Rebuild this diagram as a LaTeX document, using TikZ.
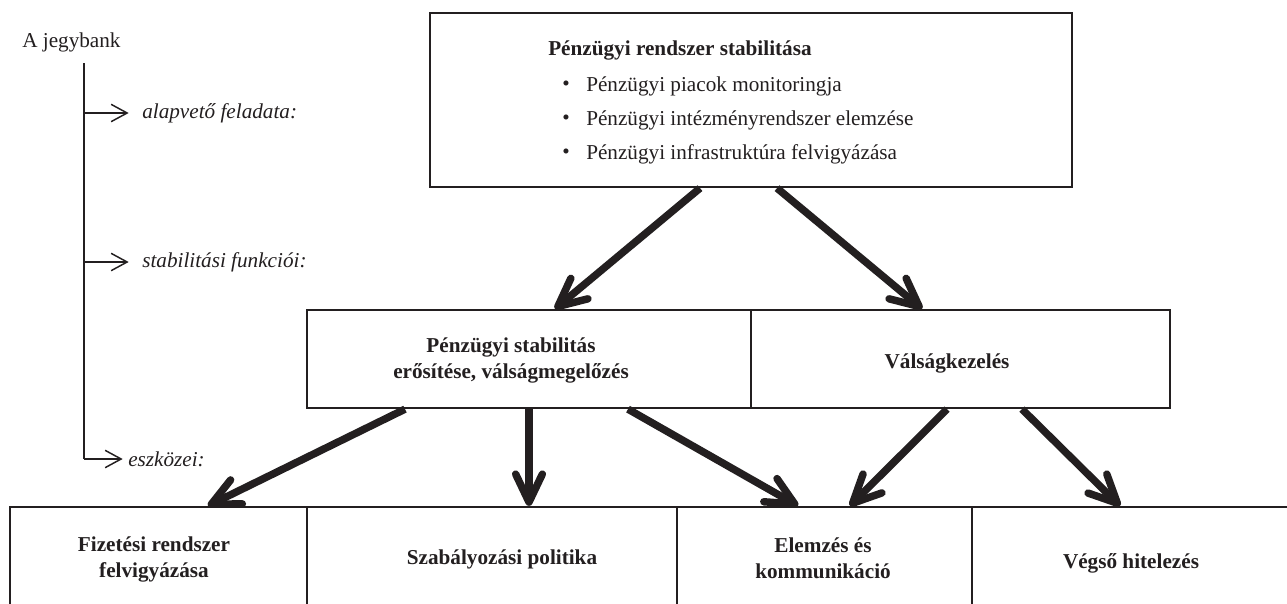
\documentclass[tikz,border=0pt]{standalone}
\usepackage{fontspec}
\setmainfont{Liberation Serif}
\usetikzlibrary{arrows.meta,calc}
\definecolor{ink}{HTML}{231F20}
\begin{document}
\begin{tikzpicture}[x=0.75pt,y=-0.75pt,
  box/.style={draw=ink, line width=1.7pt, inner sep=0pt},
  txt/.style={font=\fontsize{15.9}{19.5}\selectfont, text=ink, inner sep=0pt},
  itxt/.style={font=\fontsize{15.9}{19.5}\selectfont\itshape, text=ink, inner sep=0pt},
  btxt/.style={font=\fontsize{15.9}{19.5}\selectfont\bfseries, text=ink, inner sep=0pt, align=center},
  bigarrow/.style={draw=ink, line width=5.6pt, -{Straight Barb[length=21pt,width=20pt,round]}},
  thinarrow/.style={draw=ink, line width=1.1pt, -{Straight Barb[length=12pt,width=13pt]}}]
\useasboundingbox (0,0) rectangle (1287,603);
\clip (0,0) rectangle (1287,603);
\fill[white] (0,0) rectangle (1287,603);

% boxes
\node[box, minimum width=481.5pt, minimum height=130.5pt] (top) at (751,100) {};
\node[box, minimum width=333pt, minimum height=73.5pt] (ml) at (529,359) {};
\node[box, minimum width=314.25pt, minimum height=73.5pt] (mr) at (960.5,359) {};
\node[box, minimum width=222.75pt, minimum height=99.75pt] (b1) at (158.5,573.5) {};
\node[box, minimum width=277.5pt, minimum height=99.75pt] (b2) at (492,573.5) {};
\node[box, minimum width=221.25pt, minimum height=99.75pt] (b3) at (824.5,573.5) {};
\node[box, minimum width=253.5pt, minimum height=99.75pt] (b4) at (1141,573.5) {};

% top box text
\node[btxt, anchor=west] (ttl) at (548,50) {Pénzügyi rendszer stabilitása};
\node[txt] (bu1) at (566,86) {•};
\node[txt] (bu2) at (566,120) {•};
\node[txt] (bu3) at (566,154) {•};
\node[txt, anchor=west] (l1) at (586,86) {Pénzügyi piacok monitoringja};
\node[txt, anchor=west] (l2) at (586,120) {Pénzügyi intézményrendszer elemzése};
\node[txt, anchor=west] (l3) at (586,154) {Pénzügyi infrastruktúra felvigyázása};

% middle texts
\node[btxt] (mlt) at (511,360) {Pénzügyi stabilitás\\erősítése, válságmegelőzés};
\node[btxt] (mrt) at (947,363) {Válságkezelés};

% bottom texts
\node[btxt] (b1t) at (154,559) {Fizetési rendszer\\felvigyázása};
\node[btxt] (b2t) at (502,559) {Szabályozási politika};
\node[btxt] (b3t) at (823,558) {Elemzés és\\kommunikáció};
\node[btxt] (b4t) at (1131,563) {Végső hitelezés};

% left legend
\node[txt, anchor=west] (jb) at (22,42) {A jegybank};
\node[itxt, anchor=west] (al) at (142,113) {alapvető feladata:};
\node[itxt, anchor=west] (st) at (142,262) {stabilitási funkciói:};
\node[itxt, anchor=west] (es) at (128,459) {eszközei:};
\coordinate (vtop) at (84,63);
\coordinate (va) at (84,113);
\coordinate (vs) at (84,262);
\coordinate (ve) at (84,459);
\draw[ink, line width=1.1pt] (vtop) -- (ve);
\draw[thinarrow] (va) -- ([xshift=-10pt]al.west);
\draw[thinarrow] (vs) -- ([xshift=-10pt]st.west);
\draw[thinarrow] (ve) -- ([xshift=-4pt]es.west);

% thick arrows
\draw[bigarrow] ($(top.south)+(-51,0)$) -- ($(ml.north)+(26,0)$);
\draw[bigarrow] ($(top.south)+(26,0)$) -- ($(mr.north)+(-38.5,0)$);
\draw[bigarrow] ($(ml.south)+(-124,0)$) -- ($(b1.north)+(49.5,0)$);
\draw[bigarrow] (ml.south) -- (b2.north -| ml.south);
\draw[bigarrow] ($(ml.south)+(99,0)$) -- ($(b3.north)+(-26.5,0)$);
\draw[bigarrow] ($(mr.south)+(-13.5,0)$) -- ($(b3.north)+(25.5,0)$);
\draw[bigarrow] ($(mr.south)+(61.5,0)$) -- ($(b4.north)+(-21,0)$);
\end{tikzpicture}
\end{document}
